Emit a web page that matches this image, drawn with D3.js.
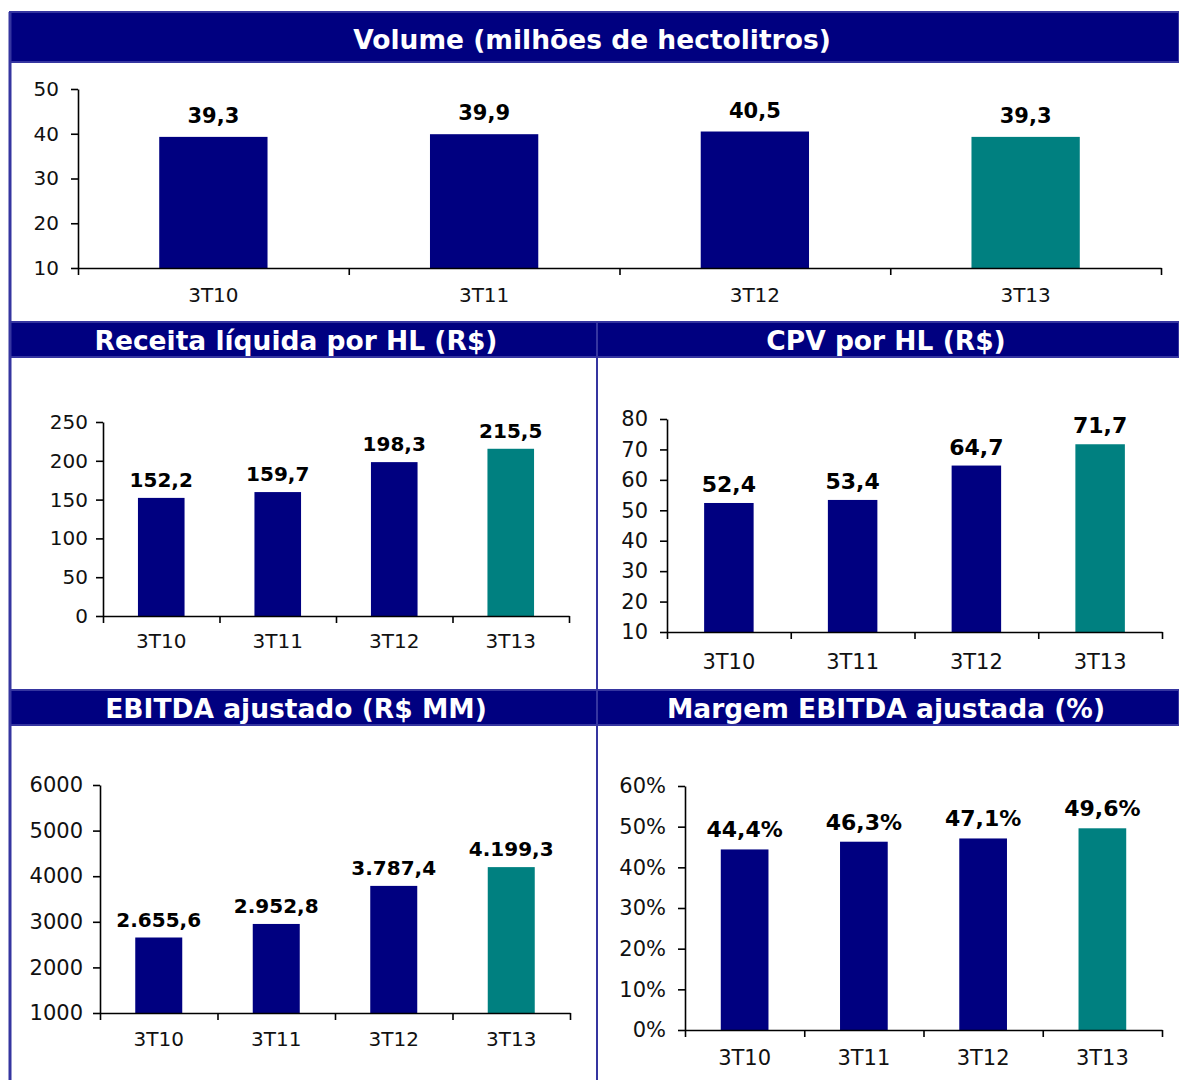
<!DOCTYPE html>
<html>
<head>
<meta charset="utf-8">
<script src="https://cdn.jsdelivr.net/npm/d3@7"></script>
<style>
  body { margin: 0; background: #fff; }
  svg { display: block; font-family: "DejaVu Sans", Verdana, sans-serif; }
</style>
</head>
<body>
<div id="chart"></div>
<script>
// data
var categories = ["3T10", "3T11", "3T12", "3T13"];
var volume = [39.3, 39.9, 40.5, 39.3];
var receitaHL = [152.2, 159.7, 198.3, 215.5];
var cpvHL = [52.4, 53.4, 64.7, 71.7];
var ebitda = [2655.6, 2952.8, 3787.4, 4199.3];
var margem = [44.4, 46.3, 47.1, 49.6];

var volumeTicks = [10, 20, 30, 40, 50];
var receitaTicks = [0, 50, 100, 150, 200, 250];
var cpvTicks = [10, 20, 30, 40, 50, 60, 70, 80];
var ebitdaTicks = [1000, 2000, 3000, 4000, 5000, 6000];
var margemTicks = [0, 10, 20, 30, 40, 50, 60];

var titles = ["Volume (milhões de hectolitros)", "Receita líquida por HL (R$)", "CPV por HL (R$)",
              "EBITDA ajustado (R$ MM)", "Margem EBITDA ajustada (%)"];

var NAVY = "#000080", TEAL = "#008080", EDGE = "#3535a0";
var W = 1179, H = 1080;

var br = d3.formatLocale({decimal: ",", thousands: ".", grouping: [3], currency: ["R$", ""]});
var fmt1 = br.format(",.1f");

var svg = d3.select("#chart").append("svg").attr("width", W).attr("height", H);

// header bands
var headers = [
  {x0: 10, x1: 1179, y0: 12, y1: 62, cx: 592, base: 49, title: titles[0]},
  {x0: 10, x1: 597, y0: 322, y1: 357, cx: 296, base: 350, title: titles[1]},
  {x0: 597, x1: 1179, y0: 322, y1: 357, cx: 886, base: 350, title: titles[2]},
  {x0: 10, x1: 597, y0: 690, y1: 725, cx: 296, base: 718, title: titles[3]},
  {x0: 597, x1: 1179, y0: 690, y1: 725, cx: 886, base: 718, title: titles[4]}
];

svg.selectAll("rect.head").data(headers).enter().append("rect")
    .attr("class", "head")
    .attr("x", function(d) { return d.x0; })
    .attr("y", function(d) { return d.y0; })
    .attr("width", function(d) { return d.x1 - d.x0; })
    .attr("height", function(d) { return d.y1 - d.y0; })
    .style("fill", NAVY)
    .style("stroke", EDGE)
    .style("stroke-width", 2);

svg.selectAll("text.head").data(headers).enter().append("text")
    .attr("class", "head")
    .attr("x", function(d) { return d.cx; })
    .attr("y", function(d) { return d.base; })
    .attr("text-anchor", "middle")
    .style("fill", "#fff")
    .style("font-weight", "bold")
    .style("font-size", "26.5px")
    .text(function(d) { return d.title; });

// panel frame lines
svg.append("line").attr("x1", 10).attr("x2", 10).attr("y1", 12).attr("y2", H)
    .style("stroke", EDGE).style("stroke-width", 3);
svg.append("line").attr("x1", 597).attr("x2", 597).attr("y1", 357).attr("y2", 690)
    .style("stroke", EDGE).style("stroke-width", 2);
svg.append("line").attr("x1", 597).attr("x2", 597).attr("y1", 725).attr("y2", H)
    .style("stroke", EDGE).style("stroke-width", 2);

// charts
var charts = [
  {values: volume, ticks: volumeTicks, x0: 78, x1: 1161, top: 89, bottom: 268, pad: 12,
   tickFont: 20, catFont: 20, valFont: 21, valGap: 14, catBase: 302, fmt: fmt1, tickFmt: String},
  {values: receitaHL, ticks: receitaTicks, x0: 103, x1: 569, top: 422, bottom: 616, pad: 8,
   tickFont: 20, catFont: 20, valFont: 20, valGap: 11, catBase: 648, fmt: fmt1, tickFmt: String},
  {values: cpvHL, ticks: cpvTicks, x0: 667, x1: 1162, top: 419, bottom: 632, pad: 12,
   tickFont: 21, catFont: 21, valFont: 22, valGap: 11, catBase: 669, fmt: fmt1, tickFmt: String},
  {values: ebitda, ticks: ebitdaTicks, x0: 100, x1: 570, top: 785, bottom: 1013, pad: 10,
   tickFont: 21, catFont: 20, valFont: 20, valGap: 11, catBase: 1046, fmt: fmt1, tickFmt: String},
  {values: margem, ticks: margemTicks, x0: 685, x1: 1162, top: 786, bottom: 1030, pad: 12,
   tickFont: 21, catFont: 21, valFont: 22, valGap: 12, catBase: 1065,
   fmt: function(v) { return fmt1(v) + "%"; }, tickFmt: function(v) { return v + "%"; }}
];

charts.forEach(function(c) {
  var g = svg.append("g");

  var x = d3.scaleBand().domain(categories).range([c.x0, c.x1]).paddingInner(0.6).paddingOuter(0.3);
  var xEdge = d3.scaleLinear().domain([0, categories.length]).range([c.x0, c.x1]);
  var y = d3.scaleLinear().domain([c.ticks[0], c.ticks[c.ticks.length - 1]]).range([c.bottom, c.top]);

  g.selectAll("rect").data(c.values).enter().append("rect")
      .attr("x", function(d, i) { return x(categories[i]); })
      .attr("y", function(d) { return y(d); })
      .attr("width", x.bandwidth())
      .attr("height", function(d) { return c.bottom - y(d); })
      .style("fill", function(d, i) { return i === categories.length - 1 ? TEAL : NAVY; });

  g.selectAll("text.val").data(c.values).enter().append("text")
      .attr("class", "val")
      .attr("x", function(d, i) { return x(categories[i]) + x.bandwidth() / 2; })
      .attr("y", function(d) { return y(d) - c.valGap; })
      .attr("text-anchor", "middle")
      .style("font-weight", "bold")
      .style("font-size", c.valFont + "px")
      .style("fill", "#000")
      .text(function(d) { return c.fmt(d); });

  var yAxis = g.append("g")
      .attr("transform", "translate(" + c.x0 + ",0)")
      .call(d3.axisLeft(y).tickValues(c.ticks).tickFormat(c.tickFmt).tickSize(7).tickSizeOuter(0).tickPadding(c.pad));
  yAxis.selectAll("text").style("font-size", c.tickFont + "px").style("fill", "#111")
      .style("font-family", "\"DejaVu Sans\", Verdana, sans-serif");

  g.append("g")
      .attr("transform", "translate(0," + c.bottom + ")")
      .call(d3.axisBottom(xEdge).tickValues(d3.range(categories.length + 1)).tickFormat("").tickSize(7).tickSizeOuter(0));

  g.selectAll("path.domain, .tick line").style("stroke", "#000").style("stroke-width", 1.6);

  g.selectAll("text.cat").data(categories).enter().append("text")
      .attr("class", "cat")
      .attr("x", function(d) { return x(d) + x.bandwidth() / 2; })
      .attr("y", c.catBase)
      .attr("text-anchor", "middle")
      .style("font-size", c.catFont + "px")
      .style("fill", "#111")
      .text(function(d) { return d; });
});
</script>
</body>
</html>
